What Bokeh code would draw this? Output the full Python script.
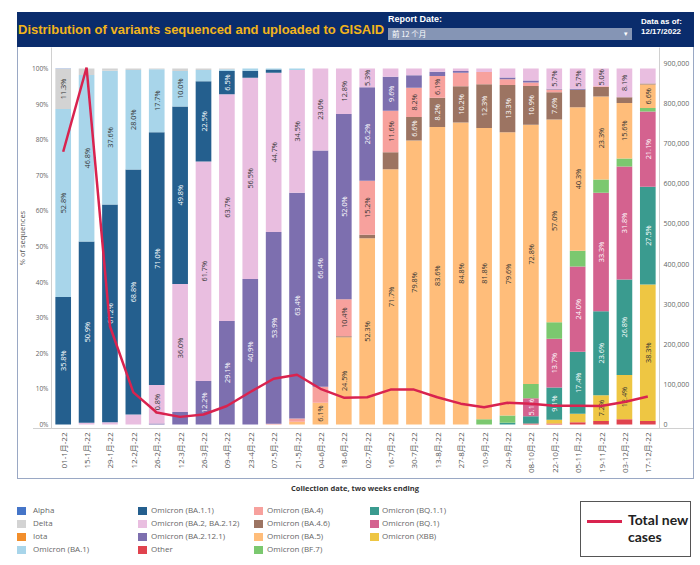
import math
from bokeh.plotting import figure
from bokeh.layouts import column
from bokeh.models import (FactorRange, Range1d, LinearAxis, NumeralTickFormatter,
                          FixedTicker, ColumnDataSource, Div)
from bokeh.core.properties import value
from bokeh.embed import file_html
from bokeh.resources import INLINE

# ---------------- data ----------------
dates = ["01-1月-22", "15-1月-22", "29-1月-22", "12-2月-22", "26-2月-22", "12-3月-22",
         "26-3月-22", "09-4月-22", "23-4月-22", "07-5月-22", "21-5月-22", "04-6月-22",
         "18-6月-22", "02-7月-22", "16-7月-22", "30-7月-22", "13-8月-22", "27-8月-22",
         "10-9月-22", "24-9月-22", "08-10月-22", "22-10月-22", "05-11月-22", "19-11月-22",
         "03-12月-22", "17-12月-22"]

# stack order, bottom -> top (percent of sequences)
other    = [0]*20 + [0.3, 0.3, 0.6, 1.0, 1.5, 1.0]
xbb      = [0]*21 + [1.0, 2.4, 7.2, 12.4, 38.3]
bq11     = [0]*19 + [0.5, 2.0, 9.1, 17.4, 23.6, 26.8, 27.5]
bq1      = [0]*20 + [5.1, 13.7, 24.0, 33.3, 31.8, 21.1]
bf7      = [0]*18 + [1.5, 2.0, 4.0, 4.6, 4.4, 3.7, 2.2, 1.0]
ba5      = [0]*10 + [0.8, 6.1, 24.5, 52.3, 71.7, 79.8, 83.6, 84.8, 81.8, 79.6, 72.8, 57.0, 40.3, 23.3, 15.6, 6.6]
ba46     = [0]*12 + [0.3, 1.0, 4.8, 6.6, 8.2, 10.2, 12.3, 13.3, 10.9, 7.6, 4.9, 2.7, 1.6, 0.3]
ba4      = [0]*9 + [0.2, 0.9, 4.5, 10.4, 15.2, 11.6, 8.2, 6.1, 3.8, 3.4, 1.6, 1.0, 0.8, 0, 0.2, 0, 0]
ba2121   = [0, 0, 0, 0, 0.3, 3.5, 12.2, 29.1, 40.9, 53.9, 63.4, 66.4, 52.0, 26.2, 9.6, 3.5,
            1.2, 0.5, 0, 0.5, 0.5, 0.2, 0.3, 0, 0, 0]
ba2      = [0, 0.5, 0.6, 2.8, 10.8, 36.0, 61.7, 63.7, 56.5, 44.7, 34.5, 23.0, 12.8, 5.3, 2.3, 1.9,
            0.9, 0.7, 1.0, 2.5, 3.4, 5.7, 5.7, 5.0, 8.1, 4.2]
ba11     = [35.8, 50.9, 61.2, 68.8, 71.0, 49.8, 22.5, 6.5, 2.0, 0.9] + [0]*16
ba1      = [52.8, 46.8, 37.6, 28.0, 17.7, 10.0, 3.2, 0.5, 0.6, 0.3, 0.4] + [0]*15
iota     = [0]*26
delta    = [11.3, 1.8, 0.6, 0.4, 0.2, 0.7, 0.4, 0.2] + [0]*18
alpha    = [0.1] + [0]*25

total_new_cases = [680000, 890000, 245000, 80000, 30000, 19000, 25000, 46000, 81000, 114000,
                   124000, 89000, 67000, 68000, 87000, 87000, 68000, 52000, 43000, 54000,
                   52000, 47000, 47000, 46000, 56000, 70000]

series_names = ["Other", "Omicron (XBB)", "Omicron (BQ.1.1)", "Omicron (BQ.1)", "Omicron (BF.7)",
                "Omicron (BA.5)", "Omicron (BA.4.6)", "Omicron (BA.4)", "Omicron (BA.2.12.1)",
                "Omicron (BA.2, BA.2.12)", "Omicron (BA.1.1)", "Omicron (BA.1)", "Iota", "Delta", "Alpha"]
series_vals = [other, xbb, bq11, bq1, bf7, ba5, ba46, ba4, ba2121, ba2, ba11, ba1, iota, delta, alpha]
series_colors = ["#E0434E", "#EEC643", "#3A9B8F", "#D4628F", "#7BC86F", "#FFBD7A", "#9C7462",
                 "#F7A19D", "#7D6FAF", "#E9BEE0", "#245F8E", "#A8D5EA", "#F28E2B", "#D3D3D3", "#4575C8"]
label_colors = ["#ffffff", "#333333", "#ffffff", "#ffffff", "#333333", "#333333", "#ffffff",
                "#333333", "#ffffff", "#333333", "#ffffff", "#333333", "#333333", "#333333", "#ffffff"]

legend_order = ["Alpha", "Delta", "Iota", "Omicron (BA.1)",
                "Omicron (BA.1.1)", "Omicron (BA.2, BA.2.12)", "Omicron (BA.2.12.1)", "Other",
                "Omicron (BA.4)", "Omicron (BA.4.6)", "Omicron (BA.5)", "Omicron (BF.7)",
                "Omicron (BQ.1.1)", "Omicron (BQ.1)", "Omicron (XBB)"]

pct_ticks = [0, 0.1, 0.2, 0.3, 0.4, 0.5, 0.6, 0.7, 0.8, 0.9, 1.0]
case_ticks = [0, 100000, 200000, 300000, 400000, 500000, 600000, 700000, 800000, 900000]

title_text = "Distribution of variants sequenced and uploaded to GISAID"
x_title = "Collection date, two weeks ending"
y_title = "% of sequences"
line_name = ["Total new", "cases"]

# ---------------- styles ----------------
FONT = "'Open Sans', 'Noto Sans CJK SC', sans-serif"
HFONT = "'Liberation Sans', Arial, sans-serif"
NAVY = "#0A2C6C"
LINE_RED = "#D9234F"
PANEL = "#9AA8C4"


def span(x, y, inner, style=""):
    return ('<div style="position:absolute;left:%spx;top:%spx;white-space:nowrap;'
            'line-height:1;%s">%s</div>' % (x, y, style, inner))


# ---------------- header (page y 0..47) ----------------
h = []
h.append(span(17, 12, "", "width:677px;height:35px;background:%s;" % NAVY))
h.append(span(18, 23, title_text,
              "font-family:%s;font-weight:bold;font-size:13px;color:#F2B41B;" % HFONT))
h.append(span(388, 15, "Report Date:",
              "font-family:%s;font-weight:bold;font-size:9px;color:#ffffff;" % HFONT))
h.append(span(388, 28, "", "width:244px;height:12px;background:#8595B5;"))
h.append(span(392, 30, "前 12 个月",
              "font-family:'Noto Sans CJK SC';font-size:7.5px;color:#ffffff;"))
h.append(span(624, 30, "&#9662;", "font-family:%s;font-size:7px;color:#ffffff;" % FONT))
h.append(span(641, 18, "Data as of:",
              "font-family:%s;font-weight:bold;font-size:8px;color:#ffffff;" % HFONT))
h.append(span(641, 28, "12/17/2022",
              "font-family:%s;font-weight:bold;font-size:8px;color:#ffffff;" % HFONT))
header = Div(text='<div style="position:relative;width:700px;height:47px;">%s</div>' % "".join(h),
             width=700, height=47, margin=0)

# ---------------- main chart (page x 6..694, y 47..479) ----------------
p = figure(width=688, height=432, x_range=FactorRange(*dates),
           y_range=Range1d(-0.01124, 1.05899), title=None,
           output_backend="svg", toolbar_location=None, margin=(0, 0, 0, 6))
p.min_border_left = 45
p.min_border_right = 35
p.min_border_top = 0
p.min_border_bottom = 51
p.extra_y_ranges = {"cases": Range1d(-9972, 939889)}
p.outline_line_color = None
p.xgrid.grid_line_color = None
p.ygrid.grid_line_color = None
p.background_fill_color = "white"
p.border_fill_alpha = 0
p.styles = {"background": (
    "linear-gradient({c},{c}) 11px 0/1px 100% no-repeat,"
    "linear-gradient({c},{c}) 100% 0/1px 100% no-repeat,"
    "linear-gradient({c},{c}) 11px 100%/677px 1px no-repeat,"
    "linear-gradient(#D0D0D0,#D0D0D0) 27px 381px/661px 1px no-repeat,"
    "#ffffff").format(c=PANEL)}

data = {"date": dates}
keys = []
for i, vals in enumerate(series_vals):
    k = "s%d" % i
    keys.append(k)
    data[k] = [v / 100.0 for v in vals]
src = ColumnDataSource(data)
p.vbar_stack(keys, x="date", width=0.67, color=series_colors, line_color=None, source=src)

# segment labels
lx, ly, lt, lc = [], [], [], []
for j, d in enumerate(dates):
    bottom = 0.0
    for i, vals in enumerate(series_vals):
        v = vals[j]
        if v >= 5.0:
            lx.append(d)
            ly.append((bottom + v / 2.0) / 100.0)
            lt.append("%.1f%%" % v)
            lc.append(label_colors[i])
        bottom += v
p.text(x="x", y="y", text="t", text_color="c",
       source=ColumnDataSource(dict(x=lx, y=ly, t=lt, c=lc)),
       angle=math.pi / 2, text_align="center", text_baseline="middle",
       text_font_size="7.3px", text_font=value("Open Sans"))

p.line(x=dates, y=total_new_cases, y_range_name="cases", line_color=LINE_RED, line_width=2.5)


def style_axis(a, size, standoff):
    a.major_label_text_font_size = size
    a.major_label_text_color = "#555555"
    a.major_label_text_font = FONT
    a.major_label_standoff = standoff
    a.major_tick_line_color = None
    a.minor_tick_line_color = None
    a.major_tick_out = 0
    a.minor_tick_out = 0
    a.major_tick_in = 0
    a.minor_tick_in = 0
    a.axis_line_color = "#D0D0D0"


ax = p.xaxis[0]
style_axis(ax, "8px", 4)
ax.major_label_orientation = math.pi / 2

ay = p.yaxis[0]
ay.ticker = FixedTicker(ticks=pct_ticks)
ay.formatter = NumeralTickFormatter(format="0%")
style_axis(ay, "6.5px", 3)
ay.major_label_text_color = "#666666"
ay.axis_label = y_title
ay.axis_label_text_font_size = "7.5px"
ay.axis_label_text_font_style = "normal"
ay.axis_label_text_color = "#555555"
ay.axis_label_text_font = FONT
ay.axis_label_standoff = 2

ry = LinearAxis(y_range_name="cases", ticker=FixedTicker(ticks=case_ticks),
                formatter=NumeralTickFormatter(format="0,0"))
style_axis(ry, "7px", 4)
ry.major_label_text_color = "#666666"
p.add_layout(ry, "right")

# ---------------- legend area (page y 479..563) ----------------
Y0 = 479
col_sq = [17, 138, 254, 370]
col_tx = [33, 151, 267, 382]
row_y = [511, 524, 537, 550]
g = []
g.append('<div style="position:absolute;left:255px;top:%spx;width:200px;text-align:center;'
         'font-family:%s;font-weight:bold;font-size:7.5px;color:#333333;line-height:1;">%s</div>'
         % (489 - Y0 - 4, FONT, x_title))
for n, name in enumerate(legend_order):
    c, r = divmod(n, 4)
    color = series_colors[series_names.index(name)]
    g.append(span(col_sq[c], row_y[r] - Y0 - 4.3, "",
                  "width:8.6px;height:8.6px;background:%s;" % color))
    g.append(span(col_tx[c], row_y[r] - Y0 - 5, name,
                  "font-family:%s;font-size:8px;color:#666666;" % FONT))
g.append(span(580, 501 - Y0, "", "width:111px;height:56px;border:1px solid #555555;"))
g.append(span(587, 521 - Y0 - 1.5, "", "width:35px;height:3px;background:%s;" % LINE_RED))
g.append(span(628, 521 - Y0 - 8, line_name[0],
              "font-family:Lato,%s;font-weight:bold;font-size:14px;color:#222222;" % FONT))
g.append(span(628, 538 - Y0 - 8, line_name[1],
              "font-family:Lato,%s;font-weight:bold;font-size:14px;color:#222222;" % FONT))
legend = Div(text='<div style="position:relative;width:700px;height:84px;">%s</div>' % "".join(g),
             width=700, height=84, margin=0)

root = column(header, p, legend, spacing=0)
open("out.html", "w").write(file_html(root, INLINE))
